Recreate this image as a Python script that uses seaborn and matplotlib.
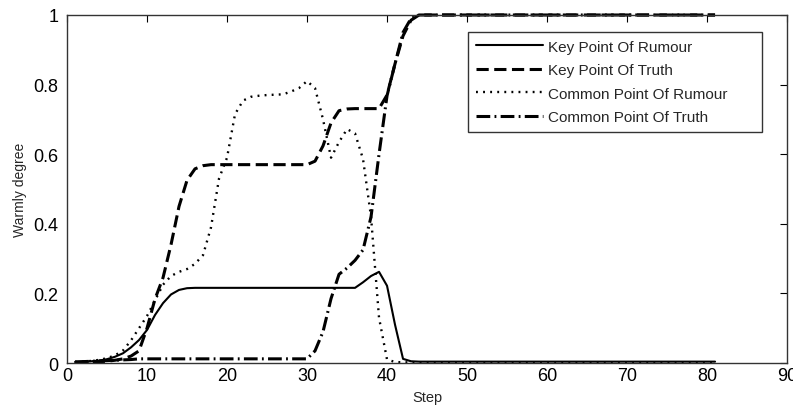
import numpy as np
import pandas as pd
import matplotlib
matplotlib.use("Agg")
import matplotlib.pyplot as plt
import seaborn as sns

# Wartosci (krok 1..81)
steps = list(range(1, 82))

key_rumour = ([0.003, 0.004, 0.005, 0.007, 0.011, 0.018, 0.028, 0.045, 0.066, 0.095,
               0.138, 0.172, 0.197, 0.210, 0.215]
              + [0.216] * 21
              + [0.232, 0.250, 0.262, 0.222, 0.110, 0.012, 0.005]
              + [0.004] * 38)

key_truth = ([0.002, 0.002, 0.003, 0.004, 0.005, 0.008, 0.012, 0.020, 0.035, 0.100,
              0.184, 0.245, 0.340, 0.450, 0.525, 0.558, 0.567]
             + [0.570] * 13
             + [0.580, 0.624, 0.690, 0.725, 0.730, 0.731, 0.731, 0.731, 0.731,
                0.770, 0.860, 0.940, 0.985]
             + [1.0] * 38)

common_rumour = ([0.003, 0.004, 0.006, 0.009, 0.014, 0.022, 0.036, 0.065, 0.100, 0.135,
                  0.180, 0.225, 0.250, 0.262, 0.270, 0.285, 0.310, 0.390, 0.530, 0.590,
                  0.715, 0.754, 0.765, 0.768, 0.770, 0.771, 0.772, 0.780, 0.790, 0.810,
                  0.790, 0.700, 0.590, 0.635, 0.672, 0.660, 0.586, 0.420, 0.130, 0.010,
                  0.003]
                 + [0.002] * 40)

common_truth = ([0.003, 0.004, 0.005, 0.006, 0.007, 0.008, 0.009, 0.010]
                + [0.012] * 22
                + [0.035, 0.090, 0.185, 0.255, 0.273, 0.295, 0.325, 0.420, 0.600,
                   0.768, 0.860, 0.950, 0.990]
                + [1.0] * 38)

labels = ["Key Point Of Rumour", "Key Point Of Truth",
          "Common Point Of Rumour", "Common Point Of Truth"]

sns.set_style("white")
plt.rcParams['font.family'] = ['Liberation Sans', 'DejaVu Sans']

fig = plt.figure(figsize=(7.93, 4.06), dpi=100)
ax = fig.add_axes([0.0845, 0.1034, 0.908, 0.8572])

styles = [
    dict(lw=1.5, linestyle='-'),
    dict(lw=2.2, linestyle=(0, (4.0, 1.8))),
    dict(lw=1.7, linestyle=(0, (0.8, 2.2))),
    dict(lw=2.2, linestyle=(0, (4.5, 1.4, 0.6, 1.4))),
]
series = [key_rumour, key_truth, common_rumour, common_truth]

for vals, lab, st in zip(series, labels, styles):
    df = pd.DataFrame({"Step": steps, "val": vals})
    sns.lineplot(data=df, x="Step", y="val", ax=ax, color="black",
                 label=lab, clip_on=False, **st)

ax.set_xlim(0, 90)
ax.set_ylim(0, 1)
ax.set_xticks(range(0, 91, 10))
ax.set_yticks([0, 0.2, 0.4, 0.6, 0.8, 1])
ax.set_yticklabels(["0", "0.2", "0.4", "0.6", "0.8", "1"])
ax.tick_params(direction='in', length=5, width=0.8, top=True, right=True,
               labelsize=13, colors='black')
ax.tick_params(axis='x', pad=3)
ax.tick_params(axis='y', pad=6)
for sp in ax.spines.values():
    sp.set_color('#333333')
    sp.set_linewidth(1.0)
ax.set_xlabel("Step", fontsize=10.5, labelpad=4)
ax.set_ylabel("Warmly degree", fontsize=10, labelpad=5)

leg = ax.legend(loc='upper left', bbox_to_anchor=(0.557, 0.5, 0.408, 0.451),
                mode='expand', fontsize=11, frameon=True, fancybox=False,
                edgecolor='black', handlelength=4.4, handletextpad=0.3,
                labelspacing=0.62, borderpad=0.5, borderaxespad=0)
leg.get_frame().set_linewidth(1.0)

fig.savefig("out.png", dpi=100)
